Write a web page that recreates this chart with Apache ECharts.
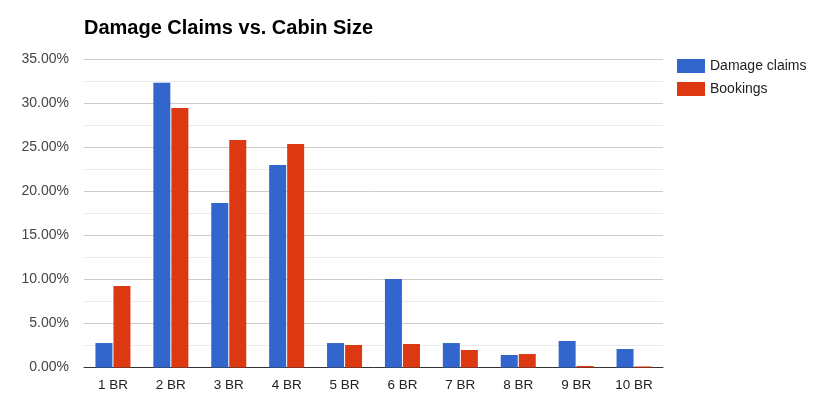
<!DOCTYPE html>
<html>
<head>
<meta charset="utf-8">
<script src="https://cdn.jsdelivr.net/npm/echarts@6/dist/echarts.min.js"></script>
<style>html,body{margin:0;padding:0;background:#fff}#c{width:821px;height:407px}</style>
</head>
<body>
<div id="c"></div>
<script>
var categories = ['1 BR','2 BR','3 BR','4 BR','5 BR','6 BR','7 BR','8 BR','9 BR','10 BR'];
var damageClaims = [2.78, 32.36, 18.69, 23.01, 2.78, 10.06, 2.78, 1.42, 3.01, 2.10];
var bookings = [9.26, 29.49, 25.85, 25.40, 2.56, 2.67, 1.99, 1.53, 0.17, 0.12];
var seriesNames = ['Damage claims', 'Bookings'];
var colors = ['#3366cc', '#dc3912'];

var chart = echarts.init(document.getElementById('c'), null, {renderer: 'canvas'});
chart.setOption({
  animation: false,
  color: colors,
  title: {
    text: 'Damage Claims vs. Cabin Size',
    left: 84, top: 18, padding: 0,
    textStyle: {fontFamily: 'Arial, Liberation Sans', fontSize: 20, fontWeight: 'bold', color: '#000'}
  },
  legend: {
    orient: 'vertical', left: 677, top: 59, padding: 0,
    itemWidth: 28, itemHeight: 14, itemGap: 9,
    icon: 'rect',
    textStyle: {fontFamily: 'Arial, Liberation Sans', fontSize: 14, color: '#222'},
    data: seriesNames
  },
  grid: {left: 84, right: 158, top: 59.5, bottom: 39.5, containLabel: false},
  xAxis: {
    type: 'category', data: categories,
    axisTick: {show: false},
    axisLine: {lineStyle: {color: '#333', width: 1}},
    axisLabel: {fontFamily: 'Arial, Liberation Sans', fontSize: 13.5, color: '#222', margin: 11}
  },
  yAxis: {
    type: 'value', min: 0, max: 35, interval: 5,
    axisLine: {show: false}, axisTick: {show: false},
    axisLabel: {fontFamily: 'Arial, Liberation Sans', fontSize: 14, color: '#444', margin: 15,
      formatter: function (v) { return v.toFixed(2) + '%'; }},
    splitLine: {lineStyle: {color: '#cccccc'}},
    minorTick: {show: false, splitNumber: 2},
    minorSplitLine: {show: true, lineStyle: {color: '#ebebeb'}}
  },
  series: [
    {name: seriesNames[0], type: 'bar', data: damageClaims, barWidth: 17, barGap: '6%'},
    {name: seriesNames[1], type: 'bar', data: bookings, barWidth: 17, barGap: '6%'}
  ]
});
</script>
</body>
</html>
